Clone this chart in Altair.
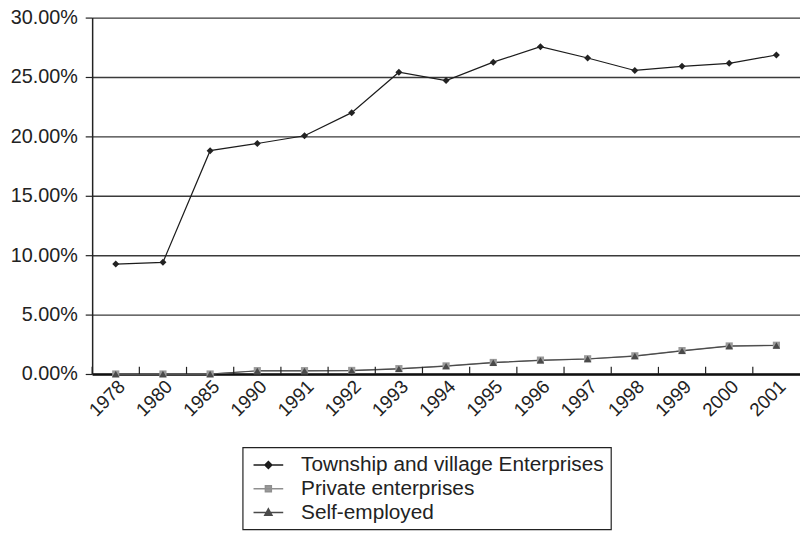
import altair as alt
import pandas as pd

years = ["1978", "1980", "1985", "1990", "1991", "1992", "1993", "1994",
         "1995", "1996", "1997", "1998", "1999", "2000", "2001"]
series = ["Township and village Enterprises", "Private enterprises", "Self-employed"]
tve = [9.25, 9.4, 18.8, 19.4, 20.05, 22.0, 25.4, 24.7, 26.25, 27.55, 26.6, 25.55, 25.9, 26.15, 26.85]
private = [0.0, 0.0, 0.0, 0.28, 0.28, 0.3, 0.45, 0.68, 0.97, 1.17, 1.28, 1.53, 1.97, 2.36, 2.42]
selfemp = [0.0, 0.0, 0.0, 0.26, 0.26, 0.28, 0.43, 0.66, 0.95, 1.15, 1.26, 1.51, 1.95, 2.34, 2.40]
y_ticks = [0.0, 0.05, 0.10, 0.15, 0.20, 0.25, 0.30]

rows = []
for s, vals in zip(series, [tve, private, selfemp]):
    for yr, v in zip(years, vals):
        rows.append({"year": yr, "value": v / 100, "series": s})
df = pd.DataFrame(rows)
ticks_df = pd.DataFrame({"year": years})

line_colors = ["#1c1c1c", "#8f8f8f", "#4a4a4a"]
marker_colors = ["#222222", "#9a9a9a", "#4a4a4a"]
legend_shapes = [
    "M-1.5,0H1.5M0,-0.35L0.35,0L0,0.35L-0.35,0Z",
    "M-1.5,0H1.5M-0.3,-0.3H0.3V0.3H-0.3Z",
    "M-1.5,0H1.5M0,-0.38L0.36,0.26H-0.36Z",
]

W, H = 715, 360
FONT = "Liberation Sans"
xscale = alt.Scale(paddingInner=0, paddingOuter=0)

x_enc = alt.X(
    "year:N", sort=years, scale=xscale,
    axis=alt.Axis(title=None, labelAngle=-45, labelFontSize=19, labelColor="#222",
                  labelFont=FONT, ticks=False, domainColor="#111", domainWidth=2.5,
                  labelPadding=3),
)
y_enc = alt.Y(
    "value:Q",
    scale=alt.Scale(domain=[0, 0.3], nice=False),
    axis=alt.Axis(title=None, values=y_ticks, format=".2%", labelFontSize=20,
                  labelFont=FONT, labelColor="#222", grid=True, gridColor="#3a3a3a",
                  gridWidth=1.4, tickSize=7, tickColor="#222", tickWidth=1.2,
                  domainColor="#222", domainWidth=1.5, labelPadding=8),
)

lines = alt.Chart(df).mark_line(strokeWidth=1.2).encode(
    x=x_enc, y=y_enc,
    color=alt.Color("series:N", scale=alt.Scale(domain=series, range=line_colors), legend=None),
    detail="series:N",
)

points = alt.Chart(df).mark_point(filled=True, opacity=1).encode(
    x=x_enc, y=y_enc,
    color=alt.Color("series:N", scale=alt.Scale(domain=series, range=marker_colors), legend=None),
    shape=alt.Shape("series:N", scale=alt.Scale(domain=series, range=["diamond", "square", "triangle-up"]), legend=None),
    size=alt.Size("series:N", scale=alt.Scale(domain=series, range=[50, 55, 60]), legend=None),
)

band = W / len(years)
xticks = alt.Chart(ticks_df).mark_rule(color="#222", strokeWidth=1.2, xOffset=-band / 2).encode(
    x=alt.X("year:N", sort=years, scale=xscale),
    y=alt.datum(0), y2=alt.datum(0.006),
)

legend_layer = alt.Chart(df).mark_point(filled=True, clip=True, strokeWidth=1.5, opacity=1).encode(
    x=alt.X("year:N", sort=years, scale=xscale),
    y=alt.value(-300),
    color=alt.Color("series:N", scale=alt.Scale(domain=series, range=marker_colors),
                    legend=alt.Legend(title=None)),
    stroke=alt.Stroke("series:N", scale=alt.Scale(domain=series, range=line_colors),
                      legend=alt.Legend(title=None)),
    shape=alt.Shape("series:N", scale=alt.Scale(domain=series, range=legend_shapes),
                    legend=alt.Legend(title=None)),
)

chart = alt.layer(lines, points, xticks, legend_layer).resolve_scale(
    color="independent", shape="independent", stroke="independent", size="independent"
).properties(
    width=W, height=H,
    autosize=alt.AutoSizeParams(type="none"),
    padding={"left": 85, "top": 7, "right": 0, "bottom": 165},
).configure_view(stroke=None).configure_legend(
    orient="none", legendX=152, legendY=434,
    strokeColor="#222", strokeWidth=1.2, padding=7,
    labelFont=FONT, labelFontSize=21, labelColor="#222", labelLimit=500,
    symbolSize=400, symbolStrokeWidth=1.5, symbolOffset=8, labelOffset=22,
    rowPadding=3,
)

chart.save("out.html", embed_options={"renderer": "svg", "actions": False})
